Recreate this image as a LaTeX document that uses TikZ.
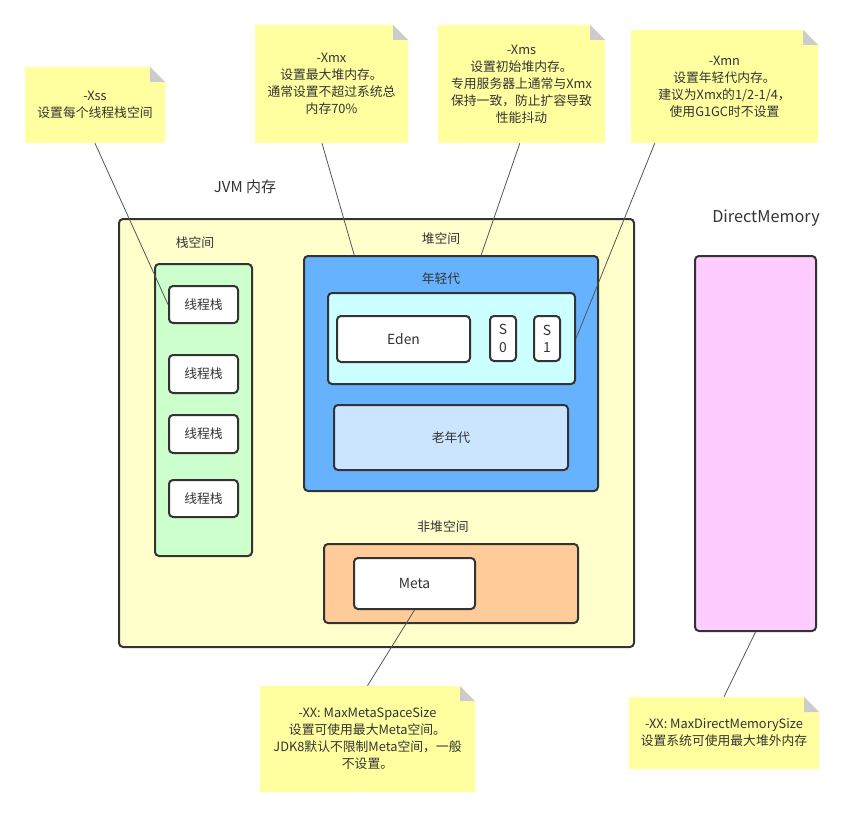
\documentclass[tikz,border=0pt]{standalone}
\usepackage{fontspec}
\setmainfont{Noto Sans CJK SC}
\usetikzlibrary{calc}
\definecolor{ink}{HTML}{333333}
\definecolor{notey}{RGB}{255,255,160}
\definecolor{foldg}{HTML}{CCCCCC}
\definecolor{jvmfill}{HTML}{FFFFCC}
\definecolor{stackfill}{HTML}{CCFFCC}
\definecolor{heapfill}{HTML}{66B2FF}
\definecolor{youngfill}{HTML}{CCFFFF}
\definecolor{oldfill}{HTML}{CCE5FF}
\definecolor{nonheapfill}{HTML}{FFCC99}
\definecolor{directfill}{HTML}{FFCCFF}
\definecolor{linkgray}{HTML}{555555}
\begin{document}
\begin{tikzpicture}[x=0.75pt,y=-0.75pt,
  sz/.style 2 args={minimum width=#1*0.75pt, minimum height=#2*0.75pt},
  box/.style={draw=ink, line width=1.5pt, rounded corners=3pt, inner sep=0pt, text=ink, align=center,
    font=\fontsize{9.6}{12}\selectfont},
  latin/.style={font=\fontsize{10.4}{13}\selectfont},
  lbl/.style={text=ink, inner sep=0pt, font=\fontsize{9.6}{12}\selectfont},
  biglbl/.style={text=ink, inner sep=0pt, font=\fontsize{11.25}{13}\selectfont},
  note/.style={inner sep=0pt, align=center, text=ink, font=\fontsize{9.6}{12.75}\selectfont,
    path picture={
      \fill[notey] (path picture bounding box.south west) -- (path picture bounding box.south east)
        -- ([yshift=-11.25pt]path picture bounding box.north east)
        -- ([xshift=-11.25pt]path picture bounding box.north east)
        -- (path picture bounding box.north west) -- cycle;
      \fill[foldg] ([xshift=-11.25pt]path picture bounding box.north east)
        -- ([xshift=-11.25pt,yshift=-11.25pt]path picture bounding box.north east)
        -- ([yshift=-11.25pt]path picture bounding box.north east) -- cycle;
    }},
  link/.style={draw=linkgray, line width=0.6pt}]
\useasboundingbox (0,0) rectangle (861,817);

% notes
\node[note, sz={140}{76}] (nxss) at (95,105) {-Xss\\设置每个线程栈空间};
\node[note, sz={153}{118}] (nxmx) at (331.5,84) {-Xmx\\设置最大堆内存。\\通常设置不超过系统总\\内存70\%};
\node[note, sz={167}{118}] (nxms) at (521.5,84) {-Xms\\设置初始堆内存。\\专用服务器上通常与Xmx\\保持一致，防止扩容导致\\性能抖动};
\node[note, sz={187}{113}] (nxmn) at (724.5,86.5) {-Xmn\\设置年轻代内存。\\建议为Xmx的1/2-1/4，\\ 使用G1GC时不设置};
\node[note, sz={215}{106}] (nmeta) at (367.5,739) {-XX: MaxMetaSpaceSize\\设置可使用最大Meta空间。\\JDK8默认不限制Meta空间，一般\\不设置。};
\node[note, sz={190}{72}] (ndirect) at (724,733) {-XX: MaxDirectMemorySize\\设置系统可使用最大堆外内存};

% titles
\node[biglbl] (tjvm) at (245,187) {JVM 内存};
\node[biglbl, font=\fontsize{12.2}{14}\selectfont] (tdirect) at (766,218) {DirectMemory};

% JVM box
\node[box, fill=jvmfill, sz={515}{428}] (jvm) at (376.5,433) {};
\node[lbl] (tstack) at (195,243) {栈空间};
\node[lbl] (theap) at (441,239) {堆空间};
\node[lbl] (tnonheap) at (443,527) {非堆空间};

% stack
\node[box, fill=stackfill, sz={97}{292}] (stack) at (203.5,410) {};
\node[box, fill=white, sz={69}{37}] (t1) at (203.5,304.5) {线程栈};
\node[box, fill=white, sz={69}{38}] (t2) at (203.5,374) {线程栈};
\node[box, fill=white, sz={69}{38}] (t3) at (203.5,434) {线程栈};
\node[box, fill=white, sz={69}{37}] (t4) at (203.5,498.5) {线程栈};

% heap
\node[box, fill=heapfill, sz={294}{235}] (heap) at (451,373.5) {};
\node[lbl] (tyoung) at (441,279) {年轻代};
\node[box, fill=youngfill, sz={247}{91}] (young) at (451.5,338.5) {};
\node[box, latin, fill=white, sz={133}{46}] (eden) at (403.5,339) {Eden};
\node[box, latin, fill=white, sz={26}{45}] (s0) at (503,338.5) {S\\0};
\node[box, latin, fill=white, sz={26}{45}] (s1) at (547,338.5) {S\\1};
\node[box, fill=oldfill, sz={234}{65}] (old) at (451,437.5) {老年代};

% non-heap
\node[box, fill=nonheapfill, sz={254}{79}] (nonheap) at (451,583.5) {};
\node[box, latin, fill=white, sz={121}{51}] (meta) at (414.5,583.5) {Meta};

% direct memory
\node[box, fill=directfill, sz={121}{375}] (direct) at (755.5,443.5) {};

% connectors
\draw[link] (nxss.south) -- (t1.west);
\draw[link] ($(nxmx.south west)!0.438!(nxmx.south east)$) -- ($(heap.north west)!0.173!(heap.north east)$);
\draw[link] ($(nxms.south west)!0.49!(nxms.south east)$) -- ($(heap.north west)!0.602!(heap.north east)$);
\draw[link] ($(nxmn.south west)!0.128!(nxmn.south east)$) -- (young.east);
\draw[link] (meta.south) -- (nmeta.north);
\draw[link] (direct.south) -- (ndirect.north);
\end{tikzpicture}
\end{document}
